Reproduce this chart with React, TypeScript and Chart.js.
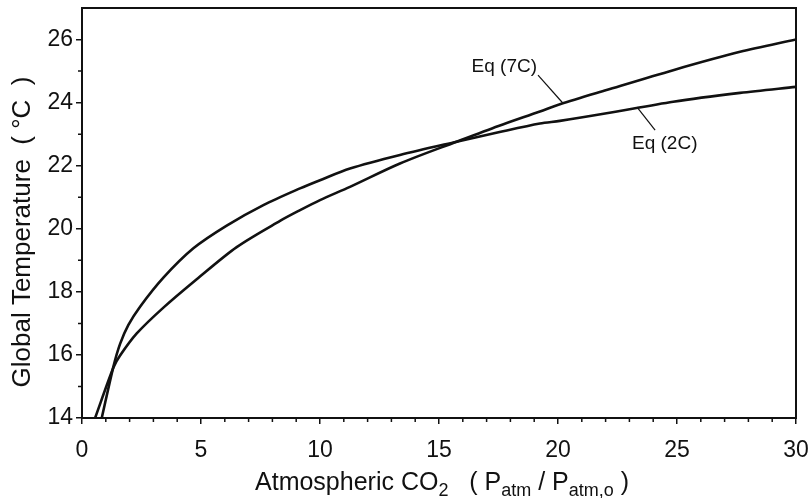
import React, { useEffect, useRef } from "react";
import { Chart, registerables } from "chart.js";

Chart.register(...registerables);

// Eq (2C)
const eq2cX = [0.83, 1.32, 1.6, 1.95, 2.44, 3.42, 4.68, 6.08, 7.62, 9.16, 10.0, 11.26, 13.36, 15.74, 17.5, 19.24, 20.08, 22.04, 24.84, 27.65, 30.0];
const eq2cY = [14.0, 15.63, 16.35, 16.95, 17.53, 18.45, 19.38, 20.1, 20.75, 21.28, 21.54, 21.91, 22.34, 22.76, 23.06, 23.34, 23.42, 23.66, 24.03, 24.31, 24.5];

// Eq (7C)
const eq7cX = [0.55, 1.32, 1.6, 2.3, 3.42, 4.82, 6.5, 8.32, 9.16, 10.0, 11.26, 13.36, 15.74, 17.5, 19.24, 20.08, 22.04, 24.84, 27.65, 30.0];
const eq7cY = [14.0, 15.6, 15.98, 16.68, 17.5, 18.4, 19.42, 20.25, 20.59, 20.91, 21.33, 22.07, 22.76, 23.26, 23.72, 23.95, 24.4, 25.03, 25.61, 26.0];

const xTicks = [0, 5, 10, 15, 20, 25, 30];
const yTicks = [14, 16, 18, 20, 22, 24, 26];
const xMinorTicks = [1, 2, 3, 4, 6, 7, 8, 9, 11, 12, 13, 14, 16, 17, 18, 19, 21, 22, 23, 24, 26, 27, 28, 29];
const yMinorTicks = [15, 17, 19, 21, 23, 25];

// annotation labels (data coordinates)
const label7C = { text: "Eq (7C)", x: 19.12, y: 25.16, align: "right" as CanvasTextAlign, from: [19.16, 24.87], to: [20.21, 23.98] };
const label2C = { text: "Eq (2C)", x: 23.11, y: 22.72, align: "left" as CanvasTextAlign, from: [23.32, 23.86], to: [24.08, 23.13] };

const FONT = "'Liberation Sans', Arial, Helvetica, sans-serif";
const INK = "#111";

const decorPlugin = {
  id: "decor",
  afterDraw(chart: any) {
    const ctx: CanvasRenderingContext2D = chart.ctx;
    const { left, right, top, bottom } = chart.chartArea;
    const xs = chart.scales.x;
    const ys = chart.scales.y;
    ctx.save();
    ctx.strokeStyle = INK;
    ctx.fillStyle = INK;
    // frame
    ctx.lineWidth = 2;
    ctx.strokeRect(left, top, right - left, bottom - top);
    // minor ticks
    ctx.lineWidth = 1.5;
    ctx.beginPath();
    xMinorTicks.forEach((v) => {
      const p = xs.getPixelForValue(v);
      ctx.moveTo(p, bottom);
      ctx.lineTo(p, bottom + 4);
    });
    yMinorTicks.forEach((v) => {
      const p = ys.getPixelForValue(v);
      ctx.moveTo(left - 4, p);
      ctx.lineTo(left, p);
    });
    ctx.stroke();

    // annotations
    ctx.font = `19px ${FONT}`;
    ctx.textBaseline = "middle";
    ctx.lineWidth = 1.2;
    [label7C, label2C].forEach((l) => {
      ctx.textAlign = l.align;
      ctx.fillText(l.text, xs.getPixelForValue(l.x), ys.getPixelForValue(l.y) + 1);
      ctx.beginPath();
      ctx.moveTo(xs.getPixelForValue(l.from[0]), ys.getPixelForValue(l.from[1]));
      ctx.lineTo(xs.getPixelForValue(l.to[0]), ys.getPixelForValue(l.to[1]));
      ctx.stroke();
    });

    // x title with subscripts
    const segs: [string, boolean][] = [
      ["Atmospheric CO", false],
      ["2", true],
      ["   ( P", false],
      ["atm", true],
      [" / P", false],
      ["atm,o", true],
      [" )", false],
    ];
    const mainFont = `25px ${FONT}`;
    const subFont = `18px ${FONT}`;
    let total = 0;
    segs.forEach(([t, s]) => {
      ctx.font = s ? subFont : mainFont;
      total += ctx.measureText(t).width;
    });
    let cx = (left + right) / 2 + 3 - total / 2;
    const baseY = 490;
    ctx.textAlign = "left";
    ctx.textBaseline = "alphabetic";
    segs.forEach(([t, s]) => {
      ctx.font = s ? subFont : mainFont;
      ctx.fillText(t, cx, s ? baseY + 6 : baseY);
      cx += ctx.measureText(t).width;
    });

    // y title
    ctx.save();
    ctx.translate(23, 232);
    ctx.rotate(-Math.PI / 2);
    ctx.font = `26px ${FONT}`;
    ctx.textAlign = "center";
    ctx.textBaseline = "middle";
    ctx.fillText("Global Temperature  ( °C  )", 0, 0);
    ctx.restore();

    ctx.restore();
  },
};

export default function App() {
  const ref = useRef<HTMLCanvasElement>(null);
  useEffect(() => {
    document.body.style.margin = "0";
    const canvas = ref.current!;
    const chart = new Chart(canvas, {
      type: "line",
      data: {
        datasets: [
          {
            label: "Eq (2C)",
            data: eq2cX.map((x, i) => ({ x, y: eq2cY[i] })),
            borderColor: INK,
            borderWidth: 2.6,
            pointRadius: 0,
            tension: 0.3,
            fill: false,
          },
          {
            label: "Eq (7C)",
            data: eq7cX.map((x, i) => ({ x, y: eq7cY[i] })),
            borderColor: INK,
            borderWidth: 2.6,
            pointRadius: 0,
            tension: 0.3,
            fill: false,
          },
        ],
      },
      options: {
        responsive: false,
        animation: false,
        devicePixelRatio: 1,
        layout: { padding: { top: 8, right: 12, left: 0, bottom: 0 } },
        plugins: { legend: { display: false }, tooltip: { enabled: false } },
        scales: {
          x: {
            type: "linear",
            min: 0,
            max: 30,
            afterBuildTicks: (s: any) => {
              s.ticks = xTicks.map((v) => ({ value: v }));
            },
            afterFit: (s: any) => {
              s.height = 80;
              s.paddingLeft = 0;
              s.paddingRight = 0;
              s.paddingTop = 0;
              s.paddingBottom = 0;
            },
            ticks: {
              color: INK,
              font: { family: FONT, size: 23 },
              padding: 13,
              maxRotation: 0,
              autoSkip: false,
            },
            grid: { display: true, drawOnChartArea: false, drawTicks: true, tickLength: 6, color: INK, lineWidth: 1.5 },
            border: { display: false },
          },
          y: {
            type: "linear",
            min: 14,
            max: 27,
            afterBuildTicks: (s: any) => {
              s.ticks = yTicks.map((v) => ({ value: v }));
            },
            afterFit: (s: any) => {
              s.width = 82;
              s.paddingLeft = 0;
              s.paddingRight = 0;
              s.paddingTop = 0;
              s.paddingBottom = 0;
            },
            ticks: {
              color: INK,
              font: { family: FONT, size: 23 },
              padding: 3,
              autoSkip: false,
            },
            grid: { display: true, drawOnChartArea: false, drawTicks: true, tickLength: 6, color: INK, lineWidth: 1.5 },
            border: { display: false },
          },
        },
      },
      plugins: [decorPlugin],
    } as any);
    return () => chart.destroy();
  }, []);
  return (
    <div style={{ width: 808, height: 498, position: "relative", background: "#fff" }}>
      <canvas ref={ref} width={808} height={498} style={{ display: "block", width: 808, height: 498 }} />
    </div>
  );
}
